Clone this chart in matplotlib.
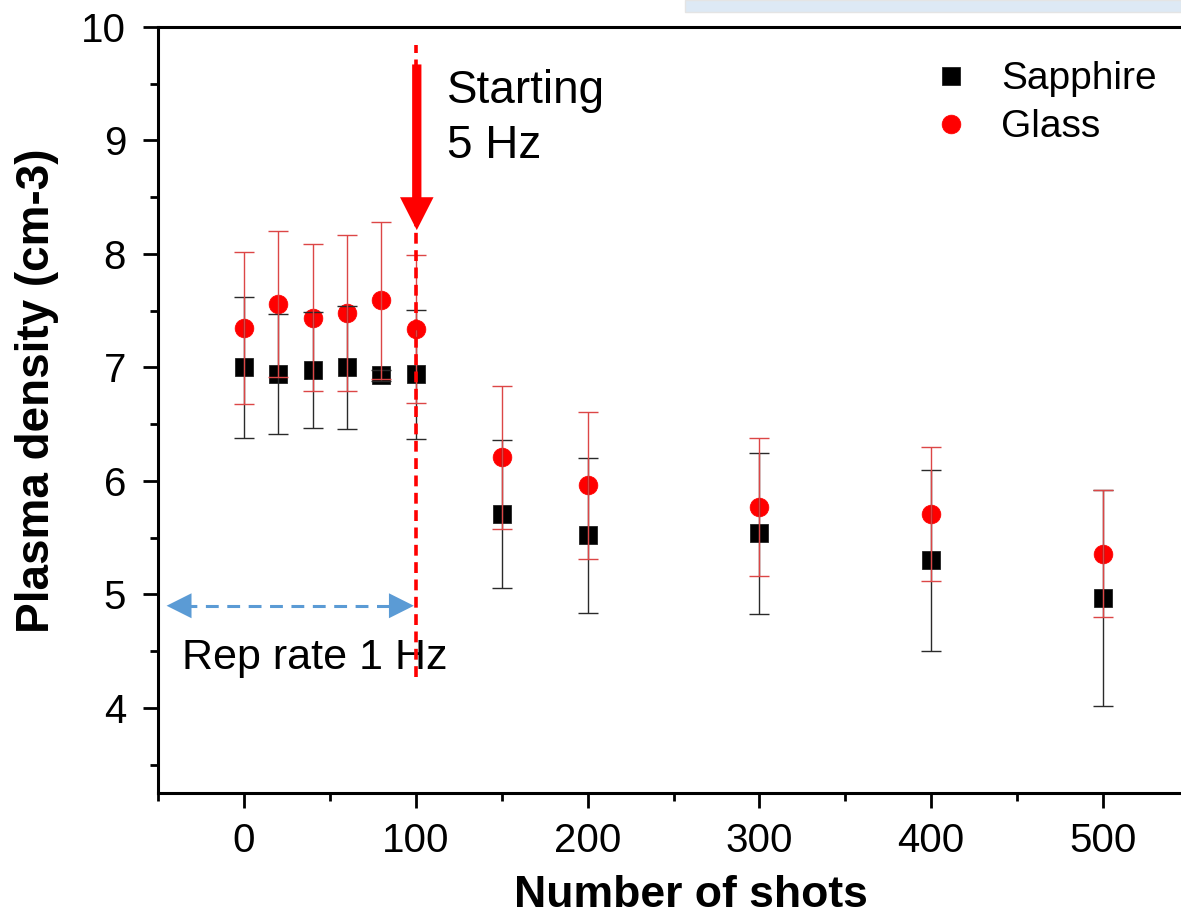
import matplotlib.pyplot as plt
from matplotlib.patches import Rectangle
from matplotlib.ticker import MultipleLocator

plt.rcParams['font.family'] = ['Liberation Sans', 'DejaVu Sans']

# measurements: plasma density vs. number of shots
shots = [0, 20, 40, 60, 80, 100, 150, 200, 300, 400, 500]
sapphire = [7.00, 6.94, 6.98, 7.00, 6.93, 6.94, 5.71, 5.52, 5.54, 5.30, 4.97]
sapphire_err = [0.62, 0.53, 0.51, 0.54, 0.05, 0.57, 0.65, 0.68, 0.71, 0.80, 0.95]
glass = [7.35, 7.56, 7.44, 7.48, 7.59, 7.34, 6.21, 5.96, 5.77, 5.71, 5.36]
glass_err = [0.67, 0.64, 0.65, 0.69, 0.69, 0.65, 0.63, 0.65, 0.61, 0.59, 0.56]

switch_shot = 100  # rep rate goes from 1 Hz to 5 Hz here

fig = plt.figure(figsize=(11.81, 9.22), dpi=100)
ax = fig.add_axes([158 / 1181, 129 / 922, 1031 / 1181, 766 / 922])

# strip left over at the top edge
fig.patches.append(Rectangle((685 / 1181, 910 / 922), 1 - 685 / 1181, 12 / 922,
                             transform=fig.transFigure, facecolor='#dde9f5',
                             edgecolor='#e4e4e4', lw=1.0, zorder=0))

ax.plot(shots, sapphire, 's', color='black', ms=12.5, mec='#222222', mew=0.6,
        label='Sapphire', zorder=3)
ax.plot(shots, glass, 'o', color='#ff0000', ms=13.5, mec='#ff0000', mew=0.5,
        label='Glass', zorder=3)
ax.errorbar(shots, sapphire, yerr=sapphire_err, fmt='none', ecolor='#2a2a2a',
            elinewidth=1.0, capsize=7, capthick=1.0, zorder=4)
ax.errorbar(shots, glass, yerr=glass_err, fmt='none', ecolor='#dc4646',
            elinewidth=1.0, capsize=7, capthick=1.0, zorder=4)

# switch marker
ax.plot([switch_shot, switch_shot], [4.27, 9.84], color='#ff0000', lw=2.6,
        dashes=(3.0, 1.8), zorder=5)
ax.arrow(100.6, 9.67, 0, 8.21 - 9.67, width=5.4, head_width=19.5,
         head_length=0.29, length_includes_head=True, color='#ff0000',
         lw=0, zorder=6)
ax.text(118, 9.63, 'Starting\n5 Hz', fontsize=33, va='top', ha='left',
        linespacing=1.33)

# 1 Hz interval
ax.plot([-35, 90], [4.9, 4.9], color='#5b9bd5', lw=2.2, dashes=(4.2, 2.8), zorder=5)
ax.arrow(-30.5, 4.9, -14.5, 0, width=0.0, head_width=0.22, head_length=14.5,
         length_includes_head=True, color='#5b9bd5', lw=0, zorder=6)
ax.arrow(84.4, 4.9, 14.5, 0, width=0.0, head_width=0.22, head_length=14.5,
         length_includes_head=True, color='#5b9bd5', lw=0, zorder=6)
ax.text(-36, 4.44, 'Rep rate 1 Hz', fontsize=31, va='center', ha='left')

ax.set_xlim(-50, 550)
ax.set_ylim(3.25, 10)
ax.xaxis.set_major_locator(MultipleLocator(100))
ax.xaxis.set_minor_locator(MultipleLocator(50))
ax.yaxis.set_major_locator(MultipleLocator(1))
ax.yaxis.set_minor_locator(MultipleLocator(0.5))

ax.tick_params(which='major', length=11, width=2, labelsize=29, pad=12)
ax.tick_params(which='minor', length=6, width=2)
ax.tick_params(axis='x', which='major', pad=10)
for side in ['left', 'bottom', 'top']:
    ax.spines[side].set_linewidth(2.2)
ax.spines['right'].set_visible(False)

ax.set_xlabel('Number of shots', fontsize=32, fontweight='bold', labelpad=11,
              x=0.517)
ax.set_ylabel('Plasma density (cm-3)', fontsize=33, fontweight='bold', labelpad=16,
              y=0.525)

ax.legend(loc='upper left', bbox_to_anchor=(0.750, 0.955), frameon=False,
          fontsize=28, handlelength=1.0, handletextpad=0.8, labelspacing=0.3,
          borderpad=0, borderaxespad=0)

fig.savefig('out.png', dpi=100)
